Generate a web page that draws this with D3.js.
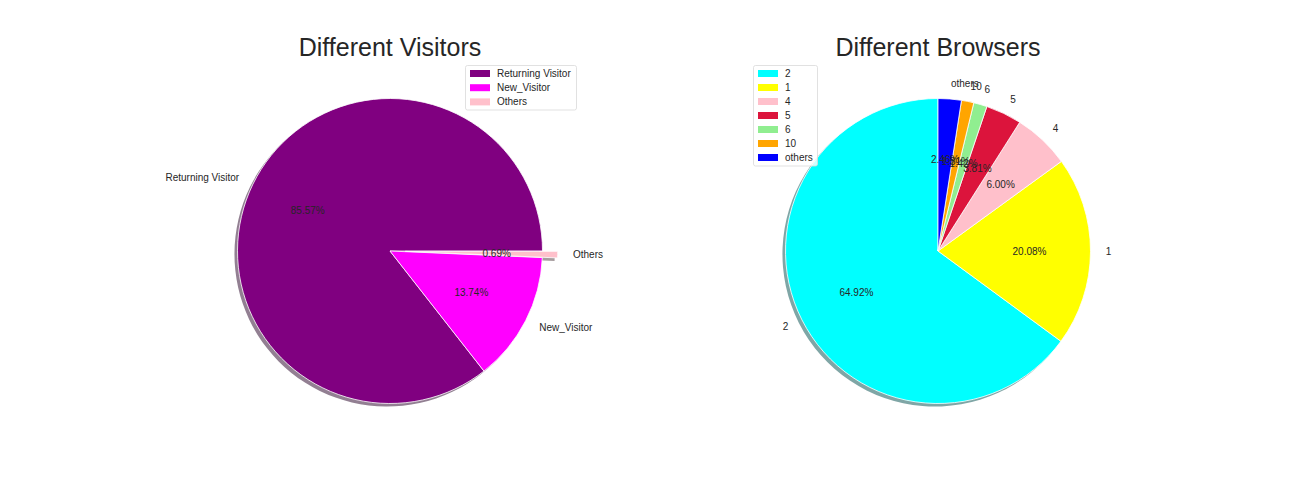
<!DOCTYPE html>
<html>
<head>
<meta charset="utf-8">
<script src="https://cdn.jsdelivr.net/npm/d3@7"></script>
<style>
  html, body { margin: 0; padding: 0; background: #fff; }
  svg { display: block; }
  text { font-family: "Liberation Sans", Arial, sans-serif; fill: #262626; }
</style>
</head>
<body>
<svg id="chart" width="1296" height="504"></svg>
<script>
// ---- data ----
const visitorLabels = ["Returning Visitor", "New_Visitor", "Others"];
const visitorValues = [85.57, 13.74, 0.69];
const visitorColors = ["purple", "magenta", "pink"];
const visitorExplode = [0, 0, 0.1];

const browserLabels = ["2", "1", "4", "5", "6", "10", "others"];
const browserValues = [64.92, 20.08, 6.00, 3.81, 1.42, 1.31, 2.46];
const browserColors = ["cyan", "yellow", "pink", "crimson", "lightgreen", "orange", "blue"];
const browserExplode = [0, 0, 0, 0, 0, 0, 0];

const svg = d3.select("#chart");

function shadowColor(c) {
  const rgb = d3.rgb(c);
  return d3.rgb(rgb.r * 0.3, rgb.g * 0.3, rgb.b * 0.3).toString();
}

function drawPie(opts) {
  const { cx, cy, R, labels, values, colors, explode, startDeg, title, legend } = opts;
  const g = svg.append("g").attr("transform", `translate(${cx},${cy})`);
  // matplotlib: counter-clockwise from startDeg (measured CCW from east)
  const a0 = (90 - startDeg) * Math.PI / 180;
  const pie = d3.pie().sort(null).value(d => d).startAngle(a0).endAngle(a0 - 2 * Math.PI);
  const arcs = pie(values);
  const total = d3.sum(values);
  const arc = d3.arc().innerRadius(0).outerRadius(R);

  const info = arcs.map((a, i) => {
    const m = (a.startAngle + a.endAngle) / 2;
    const ox = explode[i] * R * Math.sin(m);
    const oy = -explode[i] * R * Math.cos(m);
    return { a, i, m, ox, oy };
  });

  // shadows
  g.selectAll("path.shadow").data(info).join("path")
    .attr("class", "shadow")
    .attr("d", d => arc(d.a))
    .attr("transform", d => `translate(${d.ox - 0.02 * R},${d.oy + 0.02 * R})`)
    .attr("fill", d => shadowColor(colors[d.i]))
    .attr("fill-opacity", 0.5);

  // wedges
  g.selectAll("path.wedge").data(info).join("path")
    .attr("class", "wedge")
    .attr("d", d => arc(d.a))
    .attr("transform", d => `translate(${d.ox},${d.oy})`)
    .attr("fill", d => colors[d.i])
    .attr("stroke", "#fff")
    .attr("stroke-width", 0.8)
    .attr("stroke-linejoin", "round");

  // labels & pct
  info.forEach(d => {
    const s = Math.sin(d.m), c = Math.cos(d.m);
    g.append("text")
      .attr("x", d.ox + 1.1 * R * s)
      .attr("y", d.oy - 1.1 * R * c)
      .attr("text-anchor", s < 0 ? "end" : "start")
      .attr("dominant-baseline", "central")
      .attr("font-size", 10)
      .text(labels[d.i]);
    g.append("text")
      .attr("x", d.ox + 0.6 * R * s)
      .attr("y", d.oy - 0.6 * R * c)
      .attr("text-anchor", "middle")
      .attr("dominant-baseline", "central")
      .attr("font-size", 10)
      .text((values[d.i] / total * 100).toFixed(2) + "%");
  });

  // title
  svg.append("text")
    .attr("x", cx).attr("y", 55.5)
    .attr("text-anchor", "middle")
    .attr("font-size", 25)
    .text(title);

  // legend
  const lg = svg.append("g").attr("transform", `translate(${legend.x},${legend.y})`);
  lg.append("rect")
    .attr("x", 0).attr("y", 0)
    .attr("width", legend.w).attr("height", legend.h)
    .attr("rx", 2)
    .attr("fill", "#fff").attr("fill-opacity", 0.8)
    .attr("stroke", "#d9d9d9").attr("stroke-width", 0.8);
  labels.forEach((l, i) => {
    const y = 7.7 + i * legend.step;
    lg.append("rect")
      .attr("x", 4.5).attr("y", y - 3.2)
      .attr("width", 20).attr("height", 7)
      .attr("fill", colors[i]);
    lg.append("text")
      .attr("x", legend.tx).attr("y", y)
      .attr("dominant-baseline", "central")
      .attr("font-size", 10)
      .text(l);
  });
}

drawPie({
  cx: 390, cy: 251, R: 152.5,
  labels: visitorLabels, values: visitorValues, colors: visitorColors, explode: visitorExplode,
  startDeg: 0, title: "Different Visitors",
  legend: { x: 465.5, y: 65.5, w: 111, h: 44.5, step: 14.2, tx: 31.5 }
});

drawPie({
  cx: 938, cy: 251, R: 152.5,
  labels: browserLabels, values: browserValues, colors: browserColors, explode: browserExplode,
  startDeg: 90, title: "Different Browsers",
  legend: { x: 753.5, y: 65.5, w: 64, h: 100.5, step: 14, tx: 31.5 }
});
</script>
</body>
</html>
